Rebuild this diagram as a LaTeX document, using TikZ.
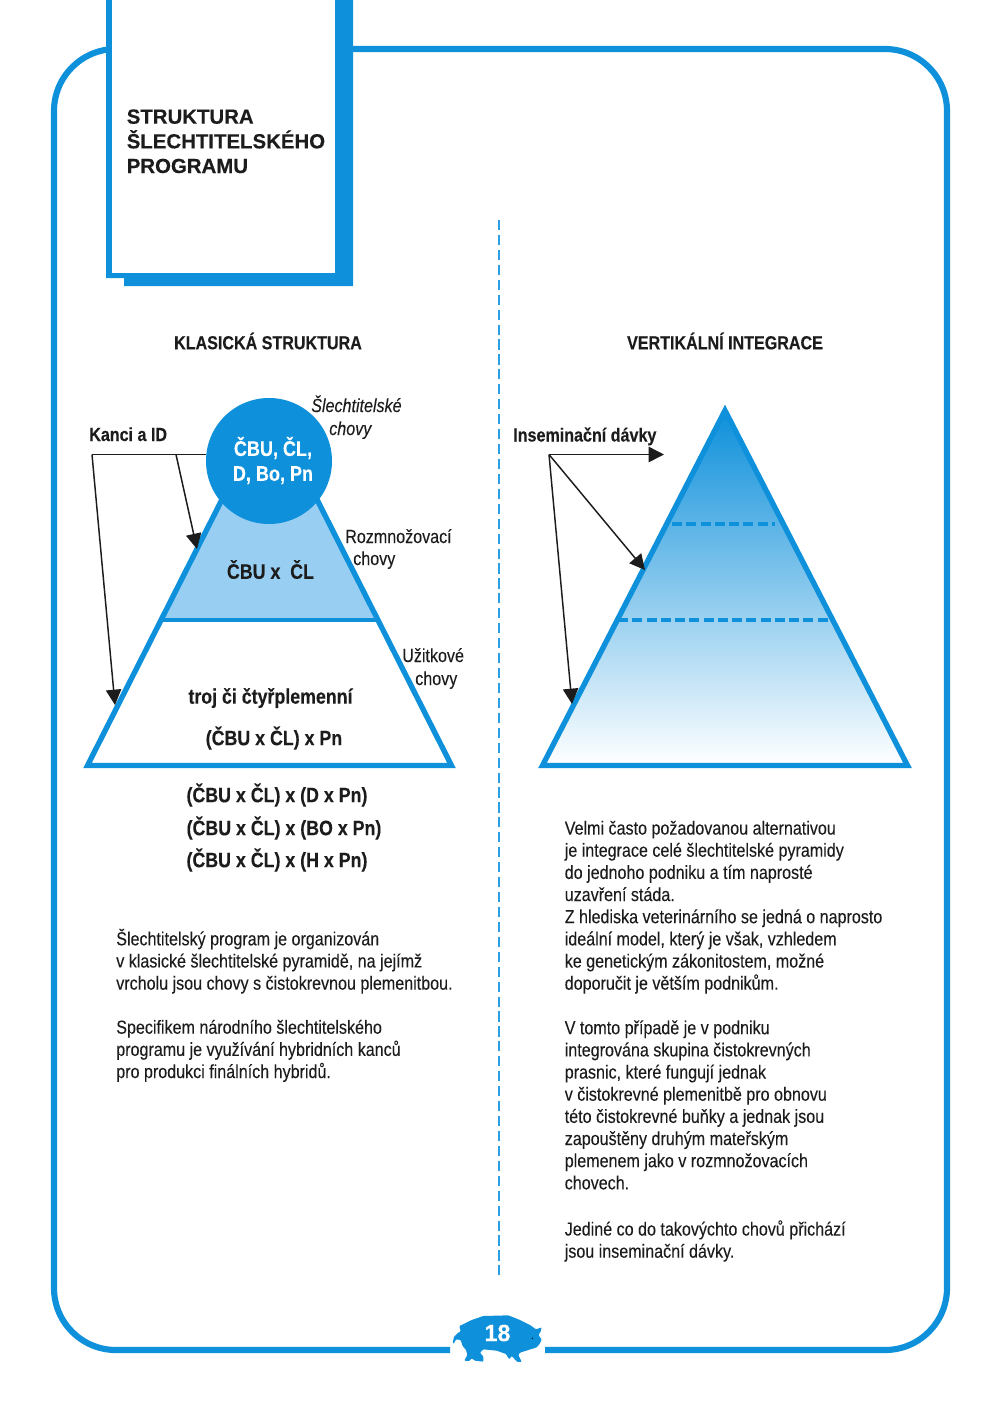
\documentclass[tikz,border=0pt]{standalone}
\usepackage{fontspec}
\setmainfont{Liberation Sans}[BoldFeatures={FakeBold=0.25}]
\newfontfamily\nar[FakeStretch=0.85,FakeBold=0.1,BoldFeatures={FakeBold=0.25}]{Liberation Sans}
\usetikzlibrary{arrows.meta}
\definecolor{pb}{HTML}{0E90DB}
\definecolor{lb}{HTML}{99CEF3}
\definecolor{ink}{HTML}{1C1C1C}
\definecolor{dv}{HTML}{2A9FE3}
\tikzset{
 x=0.75pt,y=-0.75pt,
 frameln/.style={draw=pb,line width=4.6pt},
 tri/.style={draw=pb,line width=4pt,miter limit=20},
 dashln/.style={draw=pb,line width=3pt,dash pattern=on 7.5pt off 3.2pt},
 thinln/.style={draw=ink,line width=0.8pt},
 arr/.style={draw=ink,line width=1.1pt,-{Triangle[length=11.5pt,width=11.5pt]}},
 bodytxt/.style={anchor=north west,inner sep=0pt,align=left,text=ink,font=\nar\fontsize{14.2}{16.62}\selectfont},
 boldtxt/.style={inner sep=0pt,align=center,text=ink,font=\nar\bfseries\fontsize{15.7}{17}\selectfont},
 smallbold/.style={inner sep=0pt,text=ink,font=\nar\bfseries\fontsize{14.2}{17}\selectfont},
 lab/.style={anchor=base west,inner sep=0pt,text=ink,font=\nar\fontsize{14.2}{16}\selectfont},
 labit/.style={lab,font=\nar\itshape\fontsize{14.2}{16}\selectfont},
}
\begin{document}
\begin{tikzpicture}
\useasboundingbox (0,0) rectangle (1000,1403);
% frame
\draw[frameln] (120,49) -- (885,49) arc[start angle=-90,end angle=0,radius=62] -- (947,1288) arc[start angle=0,end angle=90,radius=62] -- (545,1350);
\draw[frameln] (450,1350) -- (116,1350) arc[start angle=90,end angle=180,radius=62] -- (54,111) arc[start angle=180,end angle=270,radius=62] -- (120,49);
% title box
\fill[white] (106,-5) rectangle (353,286);
\fill[pb] (106,-5) -- (353,-5) -- (353,286) -- (124,286) -- (124,278) -- (106,278) -- cycle;
\fill[white] (111.5,-5) rectangle (335,273);
\node[anchor=base west,inner sep=0pt,align=left,text=ink,font=\bfseries\fontsize{15.3}{18.5}\selectfont] (title) at (126.5,173) {STRUKTURA\\ŠLECHTITELSKÉHO\\PROGRAMU};
% divider
\coordinate (dvT) at (499,220);
\coordinate (dvB) at (499,1280);
\draw[draw=dv,line width=1.7pt,dash pattern=on 7.6pt off 3.6pt] (dvT) -- (dvB);
% headings
\node[smallbold] (hL) at (268,341) {KLASICKÁ STRUKTURA};
\node[smallbold] (hR) at (725,341) {VERTIKÁLNÍ INTEGRACE};
% left pyramid
\fill[lb] (269.5,405.5) -- (378,620) -- (161,620) -- cycle;
\draw[tri] (269.5,405.5) -- (451.5,765.5) -- (87.5,765.5) -- cycle;
\draw[draw=pb,line width=3.7pt] (161,620) -- (378,620);
\node[circle,fill=pb,minimum size=94.5pt,inner sep=0pt] (top) at (269,461) {};
\node[inner sep=0pt,align=center,text=white,font=\nar\bfseries\fontsize{15.9}{18.7}\selectfont] (topt) at (273,460.5) {ČBU, ČL,\\D, Bo, Pn};
\node[boldtxt] (mid) at (270.5,569.5) {ČBU x\ \ ČL};
\node[boldtxt] (t1) at (270.5,698) {troj či čtyřplemenní};
\node[boldtxt] (t2) at (274,738) {(ČBU x ČL) x Pn};
\node[boldtxt] (f1) at (277,795) {(ČBU x ČL) x (D x Pn)};
\node[boldtxt] (f2) at (284,828) {(ČBU x ČL) x (BO x Pn)};
\node[boldtxt] (f3) at (277,860) {(ČBU x ČL) x (H x Pn)};
% side labels
\node[labit] (s1) at (311,412) {Šlechtitelské};
\node[labit] (s2) at (329,435) {chovy};
\node[lab] (r1) at (345,543) {Rozmnožovací};
\node[lab] (r2) at (353,565) {chovy};
\node[lab] (u1) at (402,662) {Užitkové};
\node[lab] (u2) at (415,685) {chovy};
% left arrows
\node[smallbold,anchor=base west] (kanci) at (89,441) {Kanci a ID};
\coordinate (kA) at (92,454.5);
\coordinate (kB) at (176,454.5);
\coordinate (kC) at (206,454.5);
\coordinate (kD) at (197,549);
\coordinate (kE) at (115,705);
\draw[thinln] (kA) -- (kC);
\draw[arr] (kB) -- (kD);
\draw[arr] (kA) -- (kE);
% right pyramid
\fill[top color=pb,bottom color=white] (725,410.5) -- (907.5,765.5) -- (542.5,765.5) -- cycle;
\draw[tri] (725,410.5) -- (907.5,765.5) -- (542.5,765.5) -- cycle;
\coordinate (dA) at (672,523.5);
\coordinate (dB) at (775,523.5);
\coordinate (dC) at (618,619.5);
\coordinate (dD) at (832,619.5);
\draw[dashln] (dA) -- (dB);
\draw[dashln] (dC) -- (dD);
\node[smallbold,anchor=base west] (ins) at (513,441.5) {Inseminační dávky};
\coordinate (iA) at (549,454.5);
\coordinate (iB) at (664,454.5);
\coordinate (iC) at (645,570);
\coordinate (iD) at (572,704);
\draw[arr] (iA) -- (iB);
\draw[arr] (iA) -- (iC);
\draw[arr] (iA) -- (iD);
% body text
\node[bodytxt] (b1) at (116,928.5) {Šlechtitelský program je organizován\\v klasické šlechtitelské pyramidě, na jejímž\\vrcholu jsou chovy s čistokrevnou plemenitbou.};
\node[bodytxt] (b2) at (116,1019.5) {Specifikem národního šlechtitelského\\programu je využívání hybridních kanců\\pro produkci finálních hybridů.};
\node[bodytxt] (b3) at (564.5,820.5) {Velmi často požadovanou alternativou\\je integrace celé šlechtitelské pyramidy\\do jednoho podniku a tím naprosté\\uzavření stáda.\\Z hlediska veterinárního se jedná o naprosto\\ideální model, který je však, vzhledem\\ke genetickým zákonitostem, možné\\doporučit je větším podnikům.};
\node[bodytxt] (b4) at (564.5,1020) {V tomto případě je v podniku\\integrována skupina čistokrevných\\prasnic, které fungují jednak\\v čistokrevné plemenitbě pro obnovu\\této čistokrevné buňky a jednak jsou\\zapouštěny druhým mateřským\\plemenem jako v rozmnožovacích\\chovech.};
\node[bodytxt] (b5) at (564.5,1220) {Jediné co do takovýchto chovů přichází\\jsou inseminační dávky.};
% pig
\begin{scope}[shift={(430,1290)},x=0.25pt,y=-0.25pt]
\fill[pb,rounded corners=0.6pt] (68,160) -- (72,140) -- (85,128) -- (92,124) -- (88,108) -- (105,100) -- (125,90) -- (160,78) -- (235,76) -- (270,90) -- (300,105) -- (318,118) -- (335,112) -- (332,125) -- (325,135) -- (335,148) -- (330,160) -- (320,172) -- (295,180) -- (270,188) -- (265,195) -- (275,215) -- (262,216) -- (245,198) -- (238,208) -- (228,192) -- (200,182) -- (160,178) -- (150,188) -- (160,200) -- (160,215) -- (135,212) -- (125,205) -- (118,213) -- (103,212) -- (112,195) -- (108,180) -- (98,168) -- (92,150) -- (78,148) -- (72,160) -- cycle;
\fill[black] (307,145) circle (2.2);
\end{scope}
\node[inner sep=0pt,text=white,font=\bfseries\fontsize{17.5}{20}\selectfont] (num) at (497.5,1333) {18};
\end{tikzpicture}
\end{document}
